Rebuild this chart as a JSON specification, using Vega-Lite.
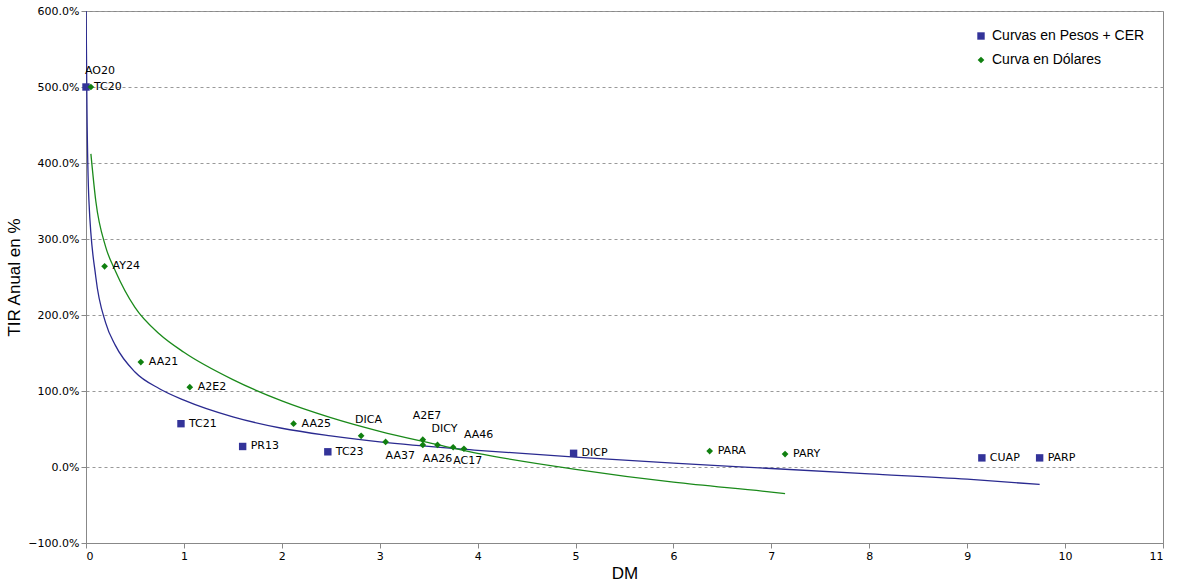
{
"$schema":"https://vega.github.io/schema/vega-lite/v6.json",
"width":1077,"height":532,
"config":{"view":{"stroke":"#888"},"font":"DejaVu Sans","axis":{"labelFont":"DejaVu Sans","labelFontSize":11,"titleFont":"Liberation Sans","titleFontSize":17,"titleFontWeight":"normal","labelColor":"#000","titleColor":"#000","labelOverlap":false}},
"datasets":{
"pts":[
{"s":"Curvas en Pesos + CER","n":"TC20","dm":0.0,"tir":500,"p":"r"},
{"s":"Curvas en Pesos + CER","n":"TC21","dm":0.97,"tir":57,"p":"r"},
{"s":"Curvas en Pesos + CER","n":"PR13","dm":1.6,"tir":27,"p":"r"},
{"s":"Curvas en Pesos + CER","n":"TC23","dm":2.47,"tir":20,"p":"r"},
{"s":"Curvas en Pesos + CER","n":"DICP","dm":4.98,"tir":18,"p":"r"},
{"s":"Curvas en Pesos + CER","n":"CUAP","dm":9.15,"tir":12,"p":"r"},
{"s":"Curvas en Pesos + CER","n":"PARP","dm":9.74,"tir":12,"p":"r"},
{"s":"Curva en Dólares","n":"AO20","dm":0.05,"tir":500,"p":"a"},
{"s":"Curva en Dólares","n":"AY24","dm":0.19,"tir":264,"p":"r"},
{"s":"Curva en Dólares","n":"AA21","dm":0.56,"tir":138,"p":"r"},
{"s":"Curva en Dólares","n":"A2E2","dm":1.06,"tir":105,"p":"r"},
{"s":"Curva en Dólares","n":"AA25","dm":2.12,"tir":57,"p":"r"},
{"s":"Curva en Dólares","n":"DICA","dm":2.81,"tir":41,"p":"a"},
{"s":"Curva en Dólares","n":"AA37","dm":3.06,"tir":33,"p":"b"},
{"s":"Curva en Dólares","n":"A2E7","dm":3.44,"tir":36,"p":"a3"},
{"s":"Curva en Dólares","n":"AA26","dm":3.44,"tir":29,"p":"b"},
{"s":"Curva en Dólares","n":"DICY","dm":3.59,"tir":29,"p":"a"},
{"s":"Curva en Dólares","n":"AC17","dm":3.75,"tir":26,"p":"b"},
{"s":"Curva en Dólares","n":"AA46","dm":3.86,"tir":24,"p":"a2"},
{"s":"Curva en Dólares","n":"PARA","dm":6.37,"tir":21,"p":"r"},
{"s":"Curva en Dólares","n":"PARY","dm":7.14,"tir":17,"p":"r"}
],
"curves":[
{"c":"b","dm":0.001,"tir":600},{"c":"b","dm":0.01,"tir":470},{"c":"b","dm":0.03,"tir":350},{"c":"b","dm":0.1,"tir":250},{"c":"b","dm":0.2,"tir":190},{"c":"b","dm":0.3,"tir":160},{"c":"b","dm":0.5,"tir":125},{"c":"b","dm":0.75,"tir":103},{"c":"b","dm":1,"tir":88},{"c":"b","dm":1.5,"tir":66},{"c":"b","dm":2,"tir":51},{"c":"b","dm":2.5,"tir":41},{"c":"b","dm":3,"tir":33},{"c":"b","dm":4,"tir":22},{"c":"b","dm":5,"tir":13},{"c":"b","dm":6,"tir":5},{"c":"b","dm":7,"tir":-2},{"c":"b","dm":8,"tir":-9},{"c":"b","dm":9,"tir":-16},{"c":"b","dm":9.74,"tir":-23},
{"c":"g","dm":0.05,"tir":412},{"c":"g","dm":0.1,"tir":350},{"c":"g","dm":0.2,"tir":290},{"c":"g","dm":0.3,"tir":258},{"c":"g","dm":0.5,"tir":210},{"c":"g","dm":0.75,"tir":175},{"c":"g","dm":1,"tir":151},{"c":"g","dm":1.5,"tir":115},{"c":"g","dm":2,"tir":87},{"c":"g","dm":2.5,"tir":65},{"c":"g","dm":3,"tir":47},{"c":"g","dm":3.5,"tir":32},{"c":"g","dm":4,"tir":18},{"c":"g","dm":5,"tir":-3},{"c":"g","dm":6,"tir":-20},{"c":"g","dm":7,"tir":-33},{"c":"g","dm":7.14,"tir":-35}
]},
"encoding":{
"x":{"field":"dm","type":"quantitative","scale":{"domain":[0,11],"nice":false},"axis":{"title":"DM","values":[0,1,2,3,4,5,6,7,8,9,10,11],"grid":false}},
"y":{"field":"tir","type":"quantitative","scale":{"domain":[-100,600],"nice":false},"axis":{"title":"TIR Anual en %","values":[-100,0,100,200,300,400,500,600],"labelExpr":"format(datum.value,'.1f')+'%'","gridDash":[3,3],"gridColor":"#999"}}
},
"layer":[
{"data":{"name":"curves"},"transform":[{"filter":"datum.c=='b'"}],"mark":{"type":"line","color":"#2a2a90","strokeWidth":1.3,"interpolate":"monotone","clip":true}},
{"data":{"name":"curves"},"transform":[{"filter":"datum.c=='g'"}],"mark":{"type":"line","color":"#1a8a1a","strokeWidth":1.3,"interpolate":"monotone"}},
{"data":{"name":"pts"},"mark":{"type":"point","filled":true,"opacity":1},
"encoding":{"color":{"field":"s","type":"nominal","scale":{"domain":["Curvas en Pesos + CER","Curva en Dólares"],"range":["#333399","#108010"]},"legend":{"title":null,"orient":"top-right","labelFontSize":14,"labelFont":"Liberation Sans","symbolSize":60,"rowPadding":10}},
"shape":{"field":"s","type":"nominal","scale":{"domain":["Curvas en Pesos + CER","Curva en Dólares"],"range":["square","diamond"]},"legend":null},
"size":{"field":"s","type":"nominal","scale":{"domain":["Curvas en Pesos + CER","Curva en Dólares"],"range":[55,45]},"legend":null}}},
{"data":{"name":"pts"},"transform":[{"filter":"datum.p=='r'"}],"mark":{"type":"text","align":"left","dx":8,"fontSize":11},"encoding":{"text":{"field":"n"}}},
{"data":{"name":"pts"},"transform":[{"filter":"datum.p=='a'"}],"mark":{"type":"text","align":"left","dx":-6,"dy":-16,"fontSize":11},"encoding":{"text":{"field":"n"}}},
{"data":{"name":"pts"},"transform":[{"filter":"datum.p=='a3'"}],"mark":{"type":"text","align":"left","dx":-10,"dy":-24,"fontSize":11},"encoding":{"text":{"field":"n"}}},
{"data":{"name":"pts"},"transform":[{"filter":"datum.p=='a2'"}],"mark":{"type":"text","align":"left","dx":0,"dy":-14,"fontSize":11},"encoding":{"text":{"field":"n"}}},
{"data":{"name":"pts"},"transform":[{"filter":"datum.p=='b'"}],"mark":{"type":"text","align":"left","dx":0,"dy":14,"fontSize":11},"encoding":{"text":{"field":"n"}}}
]
}
